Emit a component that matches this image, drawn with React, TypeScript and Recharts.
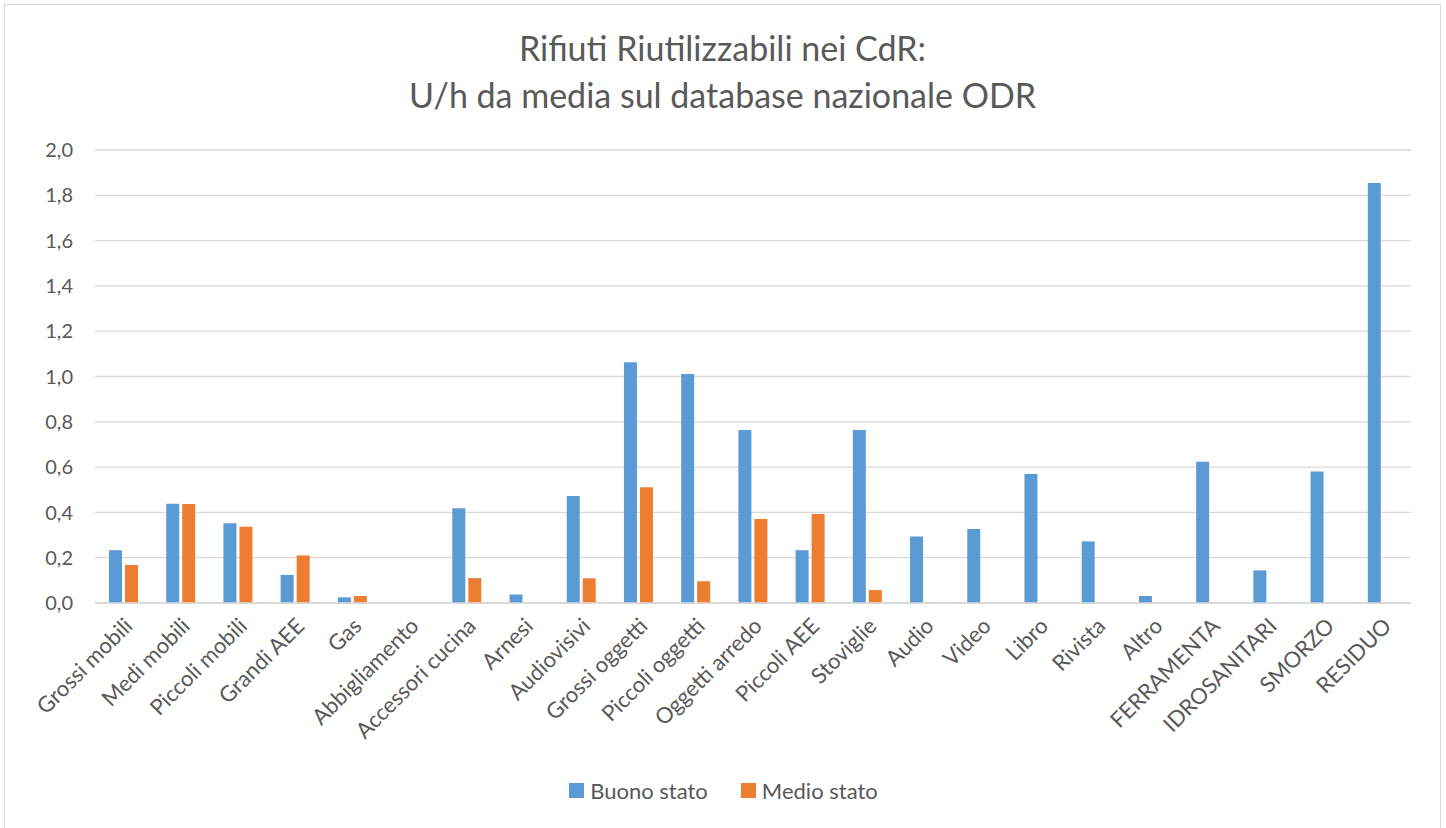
import { BarChart, Bar, XAxis, YAxis, CartesianGrid } from "recharts";

const categories = [
  "Grossi mobili", "Medi mobili", "Piccoli mobili", "Grandi AEE", "Gas", "Abbigliamento",
  "Accessori cucina", "Arnesi", "Audiovisivi", "Grossi oggetti", "Piccoli oggetti",
  "Oggetti arredo", "Piccoli AEE", "Stoviglie", "Audio", "Video", "Libro", "Rivista",
  "Altro", "FERRAMENTA", "IDROSANITARI", "SMORZO", "RESIDUO",
];

const buonoStato = [
  0.233, 0.438, 0.352, 0.124, 0.025, 0, 0.418, 0.037, 0.472, 1.063, 1.011,
  0.764, 0.233, 0.764, 0.294, 0.327, 0.57, 0.272, 0.031, 0.624, 0.144, 0.581, 1.854,
];

const medioStato = [
  0.168, 0.437, 0.337, 0.21, 0.031, 0, 0.11, 0, 0.109, 0.511, 0.096,
  0.371, 0.393, 0.057, 0, 0, 0, 0, 0, 0, 0, 0, 0,
];

const yTicks = [0, 0.2, 0.4, 0.6, 0.8, 1.0, 1.2, 1.4, 1.6, 1.8, 2.0];

const data = categories.map((name, i) => ({
  name,
  buono: buonoStato[i],
  medio: medioStato[i],
}));

const FONT = "Lato, 'Open Sans', sans-serif";
const GREY = "#595959";
const BLUE = "#5B9BD5";
const ORANGE = "#ED7D31";

// rotated category labels, end of text sits under the tick
const CategoryTick = (props: any) => {
  const { x, y, payload } = props;
  const ax = x + 5;
  const ay = y + 11;
  return (
    <text
      x={ax}
      y={ay}
      dy="0.35em"
      textAnchor="end"
      transform={`rotate(-45, ${ax}, ${ay})`}
      fill={GREY}
      fontSize={22}
      fontFamily={FONT}
    >
      {payload.value}
    </text>
  );
};

const LegendItem = ({ color, label }: { color: string; label: string }) => (
  <div style={{ display: "flex", alignItems: "center", gap: 6 }}>
    <div style={{ width: 15, height: 15, background: color }} />
    <span>{label}</span>
  </div>
);

export default function App() {
  return (
    <div
      style={{
        position: "absolute",
        left: 4,
        top: 4,
        width: 1435,
        height: 830,
        border: "1px solid #d9d9d9",
        background: "#fff",
        fontFamily: FONT,
        color: GREY,
      }}
    >
      <div
        style={{
          position: "absolute",
          top: 19,
          left: 0,
          width: "100%",
          textAlign: "center",
          fontSize: 34,
          lineHeight: "47px",
        }}
      >
        <div>Rifiuti Riutilizzabili nei CdR:</div>
        <div>U/h da media sul database nazionale ODR</div>
      </div>

      <div style={{ position: "absolute", left: 0, top: 0 }}>
        <BarChart
          width={1434}
          height={820}
          data={data}
          margin={{ top: 145, right: 28, bottom: 82, left: 0 }}
          barSize={13}
          barGap={3}
        >
          <CartesianGrid vertical={false} stroke="#d9d9d9" strokeWidth={1.3} />
          <XAxis
            dataKey="name"
            interval={0}
            height={140}
            tick={<CategoryTick />}
            tickLine={false}
            axisLine={{ stroke: "#d9d9d9", strokeWidth: 1.3 }}
          />
          <YAxis
            width={90}
            domain={[0, 2]}
            ticks={yTicks}
            interval={0}
            tickFormatter={(v: number) => v.toFixed(1).replace(".", ",")}
            tick={{ fill: GREY, fontSize: 20, fontFamily: FONT }}
            tickSize={0}
            tickMargin={22}
            axisLine={false}
            tickLine={false}
          />
          <Bar dataKey="buono" name="Buono stato" fill={BLUE} isAnimationActive={false} />
          <Bar dataKey="medio" name="Medio stato" fill={ORANGE} isAnimationActive={false} />
        </BarChart>
      </div>

      <div
        style={{
          position: "absolute",
          top: 772,
          left: 0,
          width: "100%",
          display: "flex",
          justifyContent: "center",
          gap: 33,
          fontSize: 22,
          paddingLeft: 2,
          boxSizing: "border-box",
        }}
      >
        <LegendItem color={BLUE} label="Buono stato" />
        <LegendItem color={ORANGE} label="Medio stato" />
      </div>
    </div>
  );
}
